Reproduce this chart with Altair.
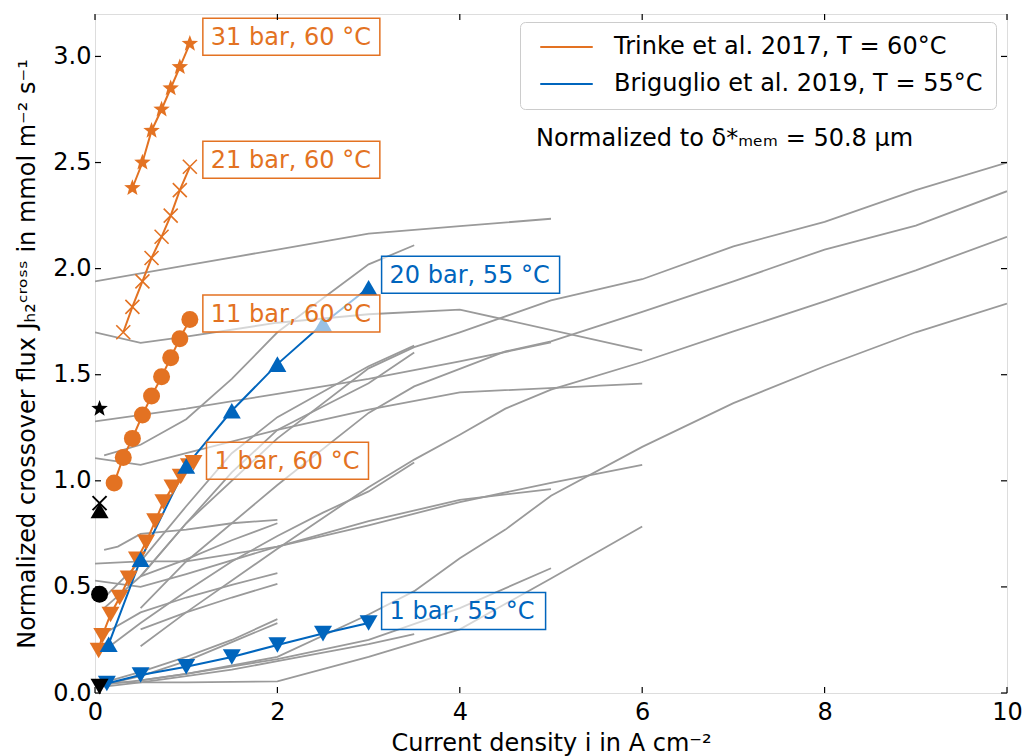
import math
import altair as alt
import pandas as pd

# ---------------- data ----------------
# Trinke et al. 2017, T = 60 °C
t31_x = [0.41, 0.52, 0.62, 0.73, 0.83, 0.93, 1.04]
t31_y = [2.38, 2.50, 2.65, 2.75, 2.85, 2.95, 3.06]
t21_x = [0.31, 0.41, 0.52, 0.62, 0.73, 0.83, 0.93, 1.04]
t21_y = [1.70, 1.82, 1.94, 2.05, 2.15, 2.25, 2.37, 2.48]
t11_x = [0.21, 0.31, 0.41, 0.52, 0.62, 0.73, 0.83, 0.93, 1.04]
t11_y = [0.99, 1.11, 1.20, 1.31, 1.40, 1.49, 1.58, 1.67, 1.76]
t1_x = [0.04, 0.08, 0.17, 0.27, 0.37, 0.46, 0.56, 0.66, 0.75, 0.85, 0.94, 1.03, 1.08]
t1_y = [0.20, 0.27, 0.37, 0.45, 0.54, 0.63, 0.71, 0.81, 0.90, 0.97, 1.02, 1.07, 1.085]
# Briguglio et al. 2019, T = 55 °C
b20_x = [0.15, 0.5, 1.0, 1.5, 2.0, 2.5, 3.0]
b20_y = [0.23, 0.63, 1.07, 1.33, 1.55, 1.74, 1.91]
b1_x = [0.13, 0.5, 1.0, 1.5, 2.0, 2.5, 3.0]
b1_y = [0.045, 0.085, 0.124, 0.17, 0.226, 0.28, 0.33]
# zero-current reference points (star, x, triangle-up, circle, triangle-down)
zero_x = [0.05, 0.05, 0.05, 0.05, 0.05]
zero_y = [1.34, 0.895, 0.86, 0.465, 0.03]

# literature data (grey)
gray_lines = [
    ([0, 1, 2, 3, 4, 5], [1.94, 2.015, 2.09, 2.165, 2.20, 2.235]),
    ([0, 0.5, 1, 2, 3, 4, 6], [1.70, 1.65, 1.68, 1.745, 1.785, 1.807, 1.615]),
    ([0, 1, 2, 3, 4, 5], [1.28, 1.34, 1.41, 1.48, 1.563, 1.652]),
    ([0, 0.5, 1, 2, 3, 4, 6], [1.107, 1.075, 1.13, 1.24, 1.335, 1.417, 1.458]),
    ([0.1, 0.5, 1, 1.5, 2, 2.5, 3, 3.5], [1.12, 1.17, 1.29, 1.48, 1.70, 1.86, 2.02, 2.11]),
    ([0.1, 0.5, 1, 1.5, 2, 2.5, 3, 3.5], [0.45, 0.62, 0.88, 1.13, 1.30, 1.42, 1.54, 1.637]),
    ([0.1, 0.5, 1, 1.5, 2, 2.5, 3, 3.5], [0.40, 0.55, 0.80, 1.04, 1.24, 1.35, 1.46, 1.605]),
    ([0.1, 0.5, 1, 1.5, 2, 2.5, 3, 3.5], [0.20, 0.33, 0.48, 0.62, 0.74, 0.85, 0.95, 1.086]),
    ([0.1, 0.5, 1, 1.5, 2, 2.5, 3, 3.5], [0.03, 0.05, 0.08, 0.11, 0.15, 0.19, 0.23, 0.278]),
    ([0, 0.5, 1, 2, 3, 4, 5], [0.53, 0.50, 0.56, 0.69, 0.81, 0.91, 0.961]),
    ([0, 0.5, 1, 2, 3, 4, 5, 6], [0.61, 0.62, 0.62, 0.69, 0.79, 0.90, 0.99, 1.075]),
    ([0.1, 0.5, 1, 2, 3, 4, 5], [0.04, 0.06, 0.09, 0.16, 0.25, 0.40, 0.588]),
    ([0.1, 1, 2, 3, 4, 5, 6], [0.05, 0.05, 0.055, 0.17, 0.30, 0.54, 0.785]),
    ([0.5, 1, 2, 3, 3.5, 4, 5, 6, 7, 8, 9, 10],
     [0.55, 0.80, 1.20, 1.53, 1.63, 1.70, 1.85, 1.95, 2.105, 2.22, 2.37, 2.50]),
    ([0.5, 1, 2, 3, 3.5, 4.5, 5, 6, 7, 8, 9, 10],
     [0.40, 0.62, 0.98, 1.32, 1.445, 1.61, 1.657, 1.796, 1.94, 2.09, 2.203, 2.365]),
    ([0.5, 1, 2, 3, 3.5, 4, 4.5, 5, 6, 7, 8, 9, 10],
     [0.22, 0.38, 0.68, 0.97, 1.10, 1.217, 1.34, 1.43, 1.56, 1.704, 1.846, 1.992, 2.15]),
    ([0.5, 1, 2, 3, 3.5, 4, 4.5, 5, 6, 7, 8, 9, 10],
     [0.06, 0.09, 0.17, 0.37, 0.48, 0.635, 0.77, 0.93, 1.16, 1.366, 1.54, 1.70, 1.835]),
    ([0.1, 0.25, 0.5, 1, 1.5, 2], [0.675, 0.69, 0.75, 0.77, 0.80, 0.816]),
    ([0.5, 1, 1.5, 2], [0.55, 0.63, 0.72, 0.80]),
    ([0.1, 0.5, 1, 1.5, 2], [0.28, 0.38, 0.45, 0.51, 0.565]),
    ([0.5, 1, 1.5, 2], [0.30, 0.38, 0.45, 0.514]),
    ([0.1, 0.5, 1, 1.5, 2], [0.05, 0.10, 0.17, 0.25, 0.348]),
    ([0.1, 0.5, 1, 1.5, 2], [0.04, 0.08, 0.15, 0.24, 0.329]),
]

x_ticks = [0, 2, 4, 6, 8, 10]
y_ticks = [0.0, 0.5, 1.0, 1.5, 2.0, 2.5, 3.0]
studies = ["Trinke et al. 2017, T = 60°C", "Briguglio et al. 2019, T = 55°C"]

# ---------------- styling ----------------
ORANGE = "#E37222"
BLUE = "#0065BD"
GRAY = "#9A9A9A"
FONT = "DejaVu Sans"
W, H = 912, 679

pts = []
for k in range(10):
    r = 1.0 if k % 2 == 0 else 0.42
    a = -math.pi / 2 + k * math.pi / 5
    pts.append(f"{r * math.cos(a):.3f},{r * math.sin(a):.3f}")
STAR = "M" + "L".join(pts) + "Z"
XMARK = "M-1,-1L1,1M-1,1L1,-1"
LEGLINE = "M-2.5,0H2.5"

xscale = alt.Scale(domain=[0, 10], nice=False, zero=False)
yscale = alt.Scale(domain=[0, 3.2], nice=False, zero=False)
xaxis = alt.Axis(values=x_ticks, format="d", grid=False, domain=False, ticks=False, tickSize=0,
                 labelPadding=26, labelBaseline="alphabetic", labelFlush=False, labelOverlap=False,
                 labelFontSize=24, labelFont=FONT, labelColor="black",
                 title="Current density i in A cm⁻²", titleFont=FONT, titleFontSize=24,
                 titleFontWeight="normal", titleColor="black", titleX=W / 2, titleY=57,
                 titleAlign="center", titleBaseline="alphabetic")
yaxis = alt.Axis(values=y_ticks, format=".1f", grid=False, domain=False, ticks=False, tickSize=0,
                 labelPadding=4, labelFlush=False, labelOverlap=False,
                 labelFontSize=24, labelFont=FONT, labelColor="black",
                 title="Normalized crossover flux Jₕ₂ᶜʳᵒˢˢ in mmol m⁻² s⁻¹", titleFont=FONT,
                 titleFontSize=24, titleFontWeight="normal", titleColor="black",
                 titleX=-61, titleY=H / 2, titleAngle=270, titleAlign="center",
                 titleBaseline="alphabetic", titleLimit=900)


def X(field="x"):
    return alt.X(f"{field}:Q", scale=xscale, axis=xaxis)


def Y(field="y"):
    return alt.Y(f"{field}:Q", scale=yscale, axis=yaxis)


# ---------------- tables ----------------
gray_df = pd.DataFrame(
    [{"x": x, "y": y, "g": i} for i, (xs, ys) in enumerate(gray_lines) for x, y in zip(xs, ys)]
)

series = {
    "t31": (t31_x, t31_y, studies[0]),
    "t21": (t21_x, t21_y, studies[0]),
    "t11": (t11_x, t11_y, studies[0]),
    "t1": (t1_x, t1_y, studies[0]),
    "b20": (b20_x, b20_y, studies[1]),
    "b1": (b1_x, b1_y, studies[1]),
}
ser_df = pd.DataFrame(
    [{"x": x, "y": y, "series": k, "study": s} for k, (xs, ys, s) in series.items() for x, y in zip(xs, ys)]
)


def sdf(key):
    xs, ys, _ = series[key]
    return pd.DataFrame({"x": xs, "y": ys})


layers = []

layers.append(
    alt.Chart(gray_df).mark_line(color=GRAY, strokeWidth=1.8, clip=True).encode(
        x=X(), y=Y(), detail="g:N", order="x:Q")
)

layers.append(
    alt.Chart(ser_df).mark_line(strokeWidth=2).encode(
        x=X(), y=Y(), detail="series:N",
        color=alt.Color("study:N", scale=alt.Scale(domain=studies, range=[ORANGE, BLUE]),
                        legend=alt.Legend(title=None, orient="none", legendX=425, legendY=8,
                                          direction="vertical", symbolType=LEGLINE,
                                          symbolSize=441, symbolStrokeWidth=2, symbolOffset=21.5,
                                          labelFontSize=24, labelFont=FONT, labelColor="black",
                                          labelLimit=700, labelOffset=35.5,
                                          fillColor="rgba(255,255,255,0.8)",
                                          strokeColor="#cccccc", cornerRadius=5, padding=13,
                                          rowPadding=13)),
    )
)


def marker(key, shape, size, color, filled=True, sw=0.0):
    return alt.Chart(sdf(key)).mark_point(shape=shape, size=size, filled=filled, color=color,
                                          opacity=1, strokeWidth=sw).encode(x=X(), y=Y())


layers += [
    marker("t31", STAR, 300, ORANGE),
    marker("t21", XMARK, 196, ORANGE, filled=False, sw=1.6),
    marker("t11", "circle", 289, ORANGE),
    marker("t1", "triangle-down", 324, ORANGE),
    marker("b20", "triangle-up", 324, BLUE),
    marker("b1", "triangle-down", 324, BLUE),
]

zshapes = [(STAR, 300, True), (XMARK, 196, False), ("triangle-up", 324, True),
           ("circle", 289, True), ("triangle-down", 324, True)]
for (shape, size, filled), zx, zy in zip(zshapes, zero_x, zero_y):
    layers.append(
        alt.Chart(pd.DataFrame({"x": [zx], "y": [zy]})).mark_point(
            shape=shape, size=size, filled=filled, color="black", opacity=1,
            strokeWidth=0 if filled else 2).encode(x=X(), y=Y())
    )

# annotation boxes at the last point of each series
labels = [
    ("t31", "31 bar, 60 °C", ORANGE, 177, -7),
    ("t21", "21 bar, 60 °C", ORANGE, 177, -7),
    ("t11", "11 bar, 60 °C", ORANGE, 177, -6),
    ("t1", "1 bar, 60 °C", ORANGE, 162, -2),
    ("b20", "20 bar, 55 °C", BLUE, 178, -13),
    ("b1", "1 bar, 55 °C", BLUE, 164, -12),
]
for key, txt, col, w, dy in labels:
    xs, ys, _ = series[key]
    d = pd.DataFrame({"x": [xs[-1]], "y": [ys[-1]], "t": [txt]})
    layers.append(
        alt.Chart(d).mark_rect(fill="white", fillOpacity=0.6, stroke=col, strokeWidth=1.5,
                               xOffset=13, x2Offset=13 + w, yOffset=dy - 18.5, y2Offset=dy + 18.5).encode(
            x=X(), x2=alt.X2("x"), y=Y(), y2=alt.Y2("y"))
    )
    layers.append(
        alt.Chart(d).mark_text(align="left", baseline="middle", dx=21, dy=dy + 1, fontSize=24,
                               font=FONT, color=col).encode(x=X(), y=Y(), text="t:N")
    )

# inward ticks on all four sides
xt = pd.DataFrame({"x": x_ticks})
yt = pd.DataFrame({"y": y_ticks})
TL = 6
layers += [
    alt.Chart(xt).mark_rule(color="black", strokeWidth=1.2).encode(x=X(), y=alt.value(0), y2=alt.value(TL)),
    alt.Chart(xt).mark_rule(color="black", strokeWidth=1.2).encode(x=X(), y=alt.value(H), y2=alt.value(H - TL)),
    alt.Chart(yt).mark_rule(color="black", strokeWidth=1.2).encode(y=Y(), x=alt.value(0), x2=alt.value(TL)),
    alt.Chart(yt).mark_rule(color="black", strokeWidth=1.2).encode(y=Y(), x=alt.value(W), x2=alt.value(W - TL)),
]

# normalisation note
layers.append(
    alt.Chart(pd.DataFrame({"t": ["Normalized to δ*ₘₑₘ = 50.8 µm"]})).mark_text(
        align="left", baseline="alphabetic", fontSize=24, font=FONT, color="black").encode(
        x=alt.value(441), y=alt.value(132), text="t:N")
)

chart = alt.layer(*layers).properties(
    width=W, height=H,
    autosize=alt.AutoSizeParams(type="none"),
    padding={"left": 95, "top": 14, "right": 16, "bottom": 63},
).configure_view(stroke="black", strokeWidth=1.3).configure(background="white")

chart.save("out.html", embed_options={"renderer": "svg", "actions": False})
